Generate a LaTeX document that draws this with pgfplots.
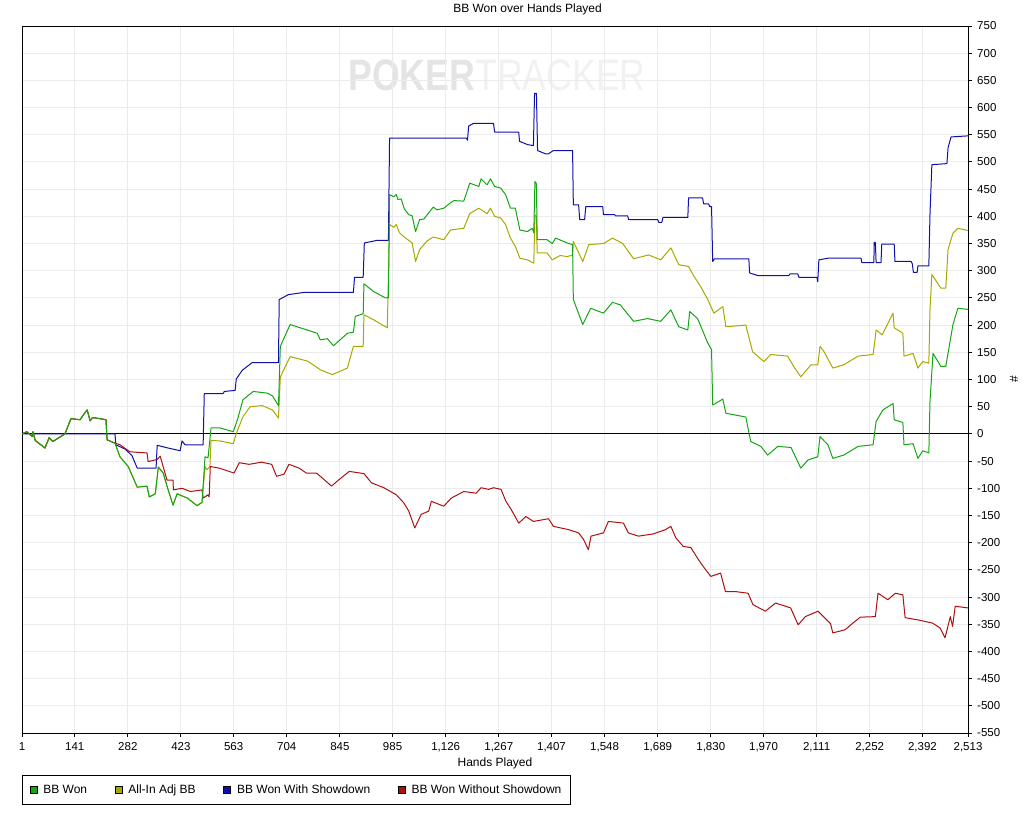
\documentclass[border=0pt]{standalone}
\usepackage{pgfplots}
\pgfplotsset{compat=1.18}
\usepackage{fontspec}
\setmainfont{Liberation Sans}
\definecolor{bbgreen}{RGB}{20,165,20}
\definecolor{bbyellow}{RGB}{168,168,0}
\definecolor{bbblue}{RGB}{15,15,170}
\definecolor{bbred}{RGB}{175,15,15}
\definecolor{gridgray}{RGB}{235,235,235}
\newcommand{\chartfont}{\fontsize{11.5}{13}\selectfont}
\newcommand{\lblfont}{\fontsize{12}{14}\selectfont}
\begin{document}
\begin{tikzpicture}[x=1pt,y=1pt]
\useasboundingbox (0,0) rectangle (1024,819);
\node[font=\fontsize{44}{44}\selectfont, xscale=0.81, inner sep=0pt] at (497,744) {\textcolor[RGB]{228,228,228}{\textbf{POKER}}\textcolor[RGB]{241,241,241}{TRACKER}};
\begin{axis}[
  at={(22pt,86pt)}, anchor=south west,
  scale only axis, width=946pt, height=707pt,
  xmin=1, xmax=2513, ymin=-550, ymax=750,
  axis line style={black, line width=1pt},
  grid=major,
  major grid style={draw=gridgray, line width=1pt},
  tick align=outside, major tick length=4pt,
  tick style={black, line width=1pt},
  xtick pos=bottom, ytick pos=right, yticklabel pos=right,
  xtick={1,141,282,423,563,704,845,985,1126,1267,1407,1548,1689,1830,1970,2111,2252,2392,2513},
  xticklabels={1,141,282,423,563,704,845,985,{1,126},{1,267},{1,407},{1,548},{1,689},{1,830},{1,970},{2,111},{2,252},{2,392},{2,513}},
  ytick={-550,-500,...,750},
  yticklabels={-550,-500,-450,-400,-350,-300,-250,-200,-150,-100,-50,0,50,100,150,200,250,300,350,400,450,500,550,600,650,700,750},
  tick label style={font=\chartfont},
  xticklabel style={inner sep=2pt, yshift=-3pt},
  yticklabel style={inner sep=2pt, xshift=3pt},
  title={BB Won over Hands Played},
  title style={at={(axis description cs:0.5344,1)}, anchor=center, yshift=11pt, font=\lblfont},
  xlabel={Hands Played},
  xlabel style={at={(axis description cs:0.5,0)}, anchor=center, yshift=-30pt, font=\lblfont},
  ylabel={\#},
  ylabel style={at={(axis description cs:1,0.5)}, anchor=center, yshift=-46pt, font=\lblfont},
  legend style={at={(0,0)}, anchor=north west, yshift=-42pt, draw=black, line width=1pt,
    font=\lblfont, inner xsep=7pt, inner ysep=7.5pt,
    /tikz/every odd column/.append style={column sep=4pt},
    /tikz/every even column/.append style={column sep=25.5pt}},
  legend columns=4,
  legend cell align=left,
]
\addlegendimage{legend image code/.code={\draw[black, line width=0.8pt, fill=bbgreen] (0pt,-3.5pt) rectangle (7pt,3.5pt);}}
\addlegendentry{BB Won}
\addlegendimage{legend image code/.code={\draw[black, line width=0.8pt, fill=bbyellow] (0pt,-3.5pt) rectangle (7pt,3.5pt);}}
\addlegendentry{All-In Adj BB}
\addlegendimage{legend image code/.code={\draw[black, line width=0.8pt, fill=bbblue] (0pt,-3.5pt) rectangle (7pt,3.5pt);}}
\addlegendentry{BB Won With Showdown}
\addlegendimage{legend image code/.code={\draw[black, line width=0.8pt, fill=bbred] (0pt,-3.5pt) rectangle (7pt,3.5pt);}}
\addlegendentry{BB Won Without Showdown}

\addplot[black, line width=1pt, forget plot] coordinates {(1,0) (2513,0)};

% All-In Adj BB
\addplot[bbyellow, line width=1pt, line join=round, forget plot] coordinates {
(1,0) (14,4) (28,-5) (30,4) (36,-12) (62,-26) (73,-7) (83,-14) (115,0) (131,28) (155,26) (166,37) (174,44) (182,24) (188,30) (208,28) (224,26) (227,-11) (248,-17)
(261,-42) (283,-60) (307,-98) (333,-96) (339,-116) (355,-110) (363,-61) (376,-72) (386,-96) (402,-131) (413,-110) (426,-114) (440,-118) (466,-132) (479,-126)
(487,-60) (492,-66) (500,-60) (503,-12) (527,-13) (562,-18) (570,1) (588,32) (607,50) (639,52) (666,44) (682,29) (687,105) (713,142) (759,134) (793,118) (825,109) (865,121) (881,161) (907,161) (909,219) (934,210) (971,195)
(977,385) (988,380) (995,385) (1003,370) (1016,362) (1037,351) (1046,317) (1057,339) (1077,355) (1093,362) (1121,357) (1139,375) (1174,378) (1181,390) (1190,405) (1214,415) (1236,405) (1245,415) (1256,400) (1272,397) (1285,385) (1298,360) (1311,345) (1323,323) (1343,320) (1360,314) (1363,403) (1367,400) (1369,333) (1395,333) (1409,320) (1430,328) (1449,326) (1463,329) (1465,354)
(1490,317) (1506,348) (1545,350) (1569,360) (1596,350) (1625,322) (1665,329) (1697,320) (1724,342) (1745,311) (1771,308) (1785,290) (1803,271) (1822,247) (1838,222) (1862,234) (1870,197) (1923,200) (1941,151) (1971,133) (1989,146) (2034,143) (2050,124) (2069,105) (2096,127) (2114,127) (2120,161) (2130,152) (2154,121) (2183,127) (2221,143) (2261,146) (2269,191) (2285,182) (2314,222) (2317,195) (2340,185) (2343,143) (2367,148) (2380,121) (2393,133) (2409,130) (2412,228) (2417,293) (2441,268) (2454,268) (2460,339) (2473,369) (2486,378) (2513,374)
};

% BB Won With Showdown
\addplot[bbblue, line width=1pt, line join=round, forget plot] coordinates {
(1,0) (248,0) (250,-20) (275,-28) (293,-40) (307,-63) (357,-63) (360,-21) (389,-26) (421,-31) (426,-13) (434,-20) (482,-20) (485,74) (535,74) (538,78) (567,80) (570,101) (586,117) (612,131) (682,131) (684,247) (708,256) (748,260) (881,260) (884,288) (907,288) (910,351) (945,356) (974,356) (977,544) (1181,544) (1184,540) (1187,566) (1200,571) (1253,571) (1256,555) (1320,555) (1322,538) (1343,532) (1359,530) (1362,626) (1367,626) (1370,521) (1391,515) (1399,515) (1412,521) (1463,521) (1465,421) (1479,421) (1482,394) (1495,394) (1498,418) (1543,418) (1545,403) (1575,403) (1577,401) (1609,401) (1612,394) (1689,394) (1692,389) (1700,389) (1703,398) (1769,398) (1771,434) (1808,434) (1811,423) (1824,423) (1827,418) (1832,418) (1835,317) (1840,322) (1931,322) (1933,296) (1955,291) (2037,291) (2040,294) (2061,294) (2064,288) (2112,288) (2114,280) (2117,320) (2141,323) (2229,323) (2231,315) (2263,315) (2264,352) (2267,352) (2269,315) (2282,315) (2284,349) (2317,349) (2319,317) (2362,317) (2365,313) (2368,297) (2378,297) (2380,309) (2409,309) (2412,403) (2417,495) (2457,497) (2460,526) (2468,546) (2513,548)
};

% BB Won Without Showdown
\addplot[bbred, line width=1pt, line join=round, forget plot] coordinates {
(1,0) (14,4) (28,-5) (30,4) (36,-12) (62,-26) (73,-7) (83,-14) (115,0) (131,28) (155,26) (166,37) (174,44) (182,24) (188,30) (208,28) (224,26) (227,-11) (248,-17)
(261,-20) (288,-33) (333,-35) (336,-51) (360,-47) (368,-41) (386,-85) (402,-85) (403,-103) (426,-100) (448,-106) (479,-103) (482,-118) (495,-112) (498,-116) (501,-60) (525,-63) (564,-72) (578,-53) (604,-56) (637,-52) (664,-56) (677,-78) (697,-74) (710,-56) (737,-63) (756,-72) (783,-72) (803,-84) (823,-96) (843,-84) (870,-69) (909,-73) (929,-90) (962,-99) (995,-112) (1015,-127) (1028,-142) (1044,-173) (1061,-148) (1081,-142) (1088,-124) (1121,-133) (1141,-118) (1174,-106) (1207,-109) (1220,-99) (1240,-102) (1253,-99) (1273,-102) (1286,-124) (1300,-139) (1320,-164) (1339,-152) (1359,-161) (1399,-156) (1412,-170) (1452,-176) (1479,-182) (1492,-194) (1505,-213) (1512,-188) (1545,-182) (1558,-161) (1598,-164) (1611,-182) (1638,-188) (1677,-184) (1710,-176) (1724,-170) (1737,-191) (1757,-207) (1777,-209) (1797,-231) (1810,-244) (1830,-262) (1856,-256) (1869,-290) (1896,-290) (1929,-293) (1942,-314) (1975,-326) (2002,-311) (2042,-320) (2062,-351) (2081,-336) (2115,-326) (2148,-349) (2154,-366) (2187,-360) (2207,-348) (2227,-337) (2267,-336) (2274,-293) (2300,-305) (2320,-293) (2340,-296) (2346,-338) (2380,-342) (2419,-348) (2439,-357) (2452,-375) (2466,-336) (2472,-354) (2479,-317) (2513,-320)
};

% BB Won
\addplot[bbgreen, line width=1pt, line join=round, forget plot] coordinates {
(1,0) (14,4) (28,-5) (30,4) (36,-12) (62,-26) (73,-7) (83,-14) (115,0) (131,28) (155,26) (166,37) (174,44) (182,24) (188,30) (208,28) (224,26) (227,-11) (248,-17)
(261,-42) (283,-60) (307,-98) (333,-96) (339,-116) (355,-110) (363,-61) (376,-72) (386,-96) (402,-131) (413,-110) (426,-114) (440,-118) (466,-132) (479,-126) (487,-42) (495,-44) (503,11) (527,11) (562,4) (573,26) (588,63) (615,78) (652,75) (666,70) (682,52) (687,161) (713,201) (740,195) (785,185) (793,173) (812,175) (828,162) (865,185) (881,187) (886,216) (907,221) (909,276) (934,262) (966,250) (974,250)
(977,440) (988,436) (995,440) (999,431) (1008,432) (1016,414) (1028,403) (1037,401) (1046,372) (1057,394) (1068,395) (1077,403) (1093,417) (1103,412) (1121,415) (1139,425) (1148,429) (1174,428) (1181,442) (1190,461) (1214,455) (1220,469) (1236,458) (1245,469) (1256,455) (1272,452) (1285,440) (1298,415) (1311,415) (1323,375) (1343,372) (1356,378) (1360,370) (1363,464) (1367,460) (1369,357) (1395,357) (1409,350) (1418,360) (1449,351) (1463,348) (1465,247)
(1490,201) (1511,231) (1545,222) (1569,242) (1590,237) (1625,207) (1662,212) (1697,207) (1724,228) (1745,197) (1769,191) (1774,225) (1795,212) (1822,167) (1832,155) (1835,53) (1862,64) (1870,38) (1923,31) (1936,-14) (1963,-23) (1981,-39) (2008,-23) (2043,-25) (2069,-63) (2088,-48) (2114,-42) (2120,-5) (2141,-20) (2154,-45) (2183,-39) (2221,-23) (2261,-20) (2269,23) (2287,44) (2314,56) (2317,26) (2340,21) (2343,-20) (2367,-18) (2380,-45) (2393,-31) (2409,-35) (2412,59) (2420,148) (2441,124) (2454,124) (2473,201) (2486,231) (2513,229)
};
\end{axis}
\end{tikzpicture}
\end{document}
